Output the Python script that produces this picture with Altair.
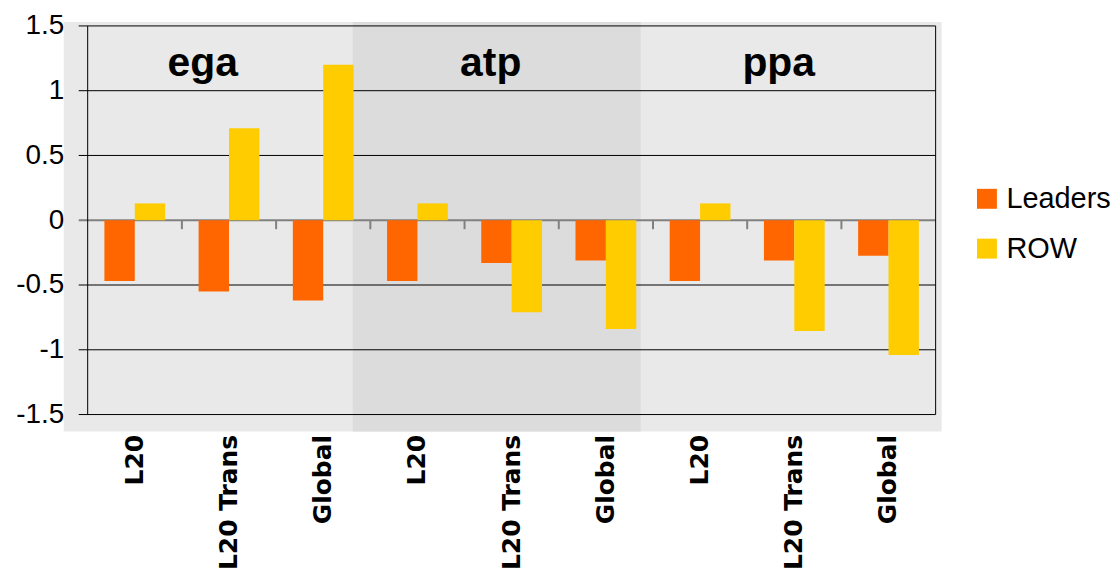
import altair as alt
import pandas as pd

# ---- data ----
groups = ["ega", "atp", "ppa"]
cats = ["L20", "L20 Trans", "Global"]
series = ["Leaders", "ROW"]
leaders = [-0.47, -0.55, -0.62, -0.47, -0.33, -0.31, -0.47, -0.31, -0.275]
row_vals = [0.13, 0.71, 1.20, 0.13, -0.71, -0.84, 0.13, -0.855, -1.04]
y_ticks = [-1.5, -1, -0.5, 0.5, 1, 1.5]
y_labels = [-1.5, -1, -0.5, 0, 0.5, 1, 1.5]
colors = ["#FF6600", "#FFCC00"]

keys = [f"{g}|{c}" for g in groups for c in cats]

rows = []
for i, k in enumerate(keys):
    rows.append({"key": k, "series": "Leaders", "value": leaders[i]})
    rows.append({"key": k, "series": "ROW", "value": row_vals[i]})
bars_df = pd.DataFrame(rows)

grid_df = pd.DataFrame({"v": y_ticks})
tick_df = pd.DataFrame({"key": keys[1:]})
group_df = pd.DataFrame({"gi": list(range(len(groups))), "group": groups})
dark_df = pd.DataFrame({"gi": [1]})

W, H = 881, 411
xscale = alt.Scale(domain=keys, range=[24, 875], paddingInner=0, paddingOuter=0)
yscale = alt.Scale(domain=[-1.5, 1.5], range=[394, 4], nice=False, zero=False)
gscale = alt.Scale(domain=[0, 3], range=[1, 868], nice=False, zero=False)

x_axis = alt.Axis(
    labelExpr="split(datum.value, '|')[1]",
    labelAngle=-90,
    labelFont="DejaVu Sans",
    labelFontWeight="bold",
    labelFontSize=25,
    labelColor="black",
    ticks=False,
    domain=False,
    grid=False,
    labelPadding=3,
    title=None,
)
y_axis = alt.Axis(
    values=y_labels,
    labelExpr="datum.value + ''",
    grid=False,
    domain=False,
    ticks=False,
    tickSize=0,
    labelPadding=0,
    labelFontSize=28,
    labelFont="Liberation Sans",
    labelColor="black",
    title=None,
)

# ---- background bands and group titles (own x scale) ----
band = alt.Chart(dark_df).transform_calculate(gi2="datum.gi + 1").mark_rect(
    color="#DCDCDC"
).encode(
    x=alt.X("gi:Q", scale=gscale, axis=None),
    x2="gi2:Q",
    y=alt.value(0),
    y2=alt.value(H),
)

titles = alt.Chart(group_df).transform_calculate(gc="datum.gi + 0.5").mark_text(
    font="Liberation Sans",
    fontWeight="bold",
    fontSize=41,
    color="black",
    baseline="alphabetic",
    align="center",
    dx=-6,
).encode(
    x=alt.X("gc:Q", scale=gscale, axis=None),
    y=alt.value(54),
    text="group:N",
)

back = alt.layer(band, titles)

# ---- plot frame, grid, bars ----
grid = alt.Chart(grid_df).mark_rule(color="black", strokeWidth=1, xOffset=-9).encode(
    x=alt.XDatum(keys[0], bandPosition=0, scale=xscale, type="nominal", axis=x_axis),
    x2=alt.X2Datum(keys[-1], bandPosition=1),
    y=alt.Y("v:Q", scale=yscale, axis=y_axis),
)

zero = alt.Chart(pd.DataFrame({"v": [0]})).mark_rule(
    color="#808080", strokeWidth=2, xOffset=-9
).encode(
    x=alt.XDatum(keys[0], bandPosition=0, scale=xscale, type="nominal", axis=x_axis),
    x2=alt.X2Datum(keys[-1], bandPosition=1),
    y=alt.Y("v:Q", scale=yscale, axis=y_axis),
)

edge_df = pd.DataFrame({"a": [-1.5], "b": [1.5]})
left_edge = alt.Chart(edge_df).mark_rule(color="black", strokeWidth=1).encode(
    x=alt.XDatum(keys[0], bandPosition=0, scale=xscale, type="nominal", axis=x_axis),
    y=alt.Y("a:Q", scale=yscale, axis=y_axis),
    y2="b:Q",
)
right_edge = alt.Chart(edge_df).mark_rule(color="black", strokeWidth=1).encode(
    x=alt.XDatum(keys[-1], bandPosition=1, scale=xscale, type="nominal", axis=x_axis),
    y=alt.Y("a:Q", scale=yscale, axis=y_axis),
    y2="b:Q",
)

zticks = alt.Chart(tick_df).mark_rule(color="#808080", strokeWidth=2, y2Offset=9).encode(
    x=alt.X("key:N", bandPosition=0, scale=xscale, axis=x_axis),
    y=alt.YDatum(0, scale=yscale, axis=y_axis),
    y2=alt.Y2Datum(0),
)

bars = alt.Chart(bars_df).mark_bar().encode(
    x=alt.X("key:N", scale=xscale, axis=x_axis),
    xOffset=alt.XOffset(
        "series:N", scale=alt.Scale(domain=series, paddingInner=0, paddingOuter=0.55)
    ),
    y=alt.Y("value:Q", scale=yscale, axis=y_axis),
    color=alt.Color(
        "series:N",
        scale=alt.Scale(domain=series, range=colors),
        legend=alt.Legend(
            orient="none",
            legendX=912,
            legendY=163,
            title=None,
            symbolType="square",
            symbolSize=400,
            symbolStrokeWidth=0,
            symbolOpacity=1,
            labelFont="Liberation Sans",
            labelFontSize=29,
            labelColor="black",
            labelOffset=5,
            rowPadding=20,
            padding=0,
        ),
    ),
)

front = alt.layer(grid, zero, left_edge, right_edge, bars, zticks)

chart = (
    alt.layer(back, front)
    .resolve_scale(x="independent")
    .properties(
        width=W,
        height=H,
        padding={"left": 15, "top": 11, "right": 0, "bottom": 0},
        background="white",
    )
    .configure_view(fill="#E9E9E9", stroke=None)
)

chart.save("out.html", embed_options={"renderer": "svg", "actions": False})
